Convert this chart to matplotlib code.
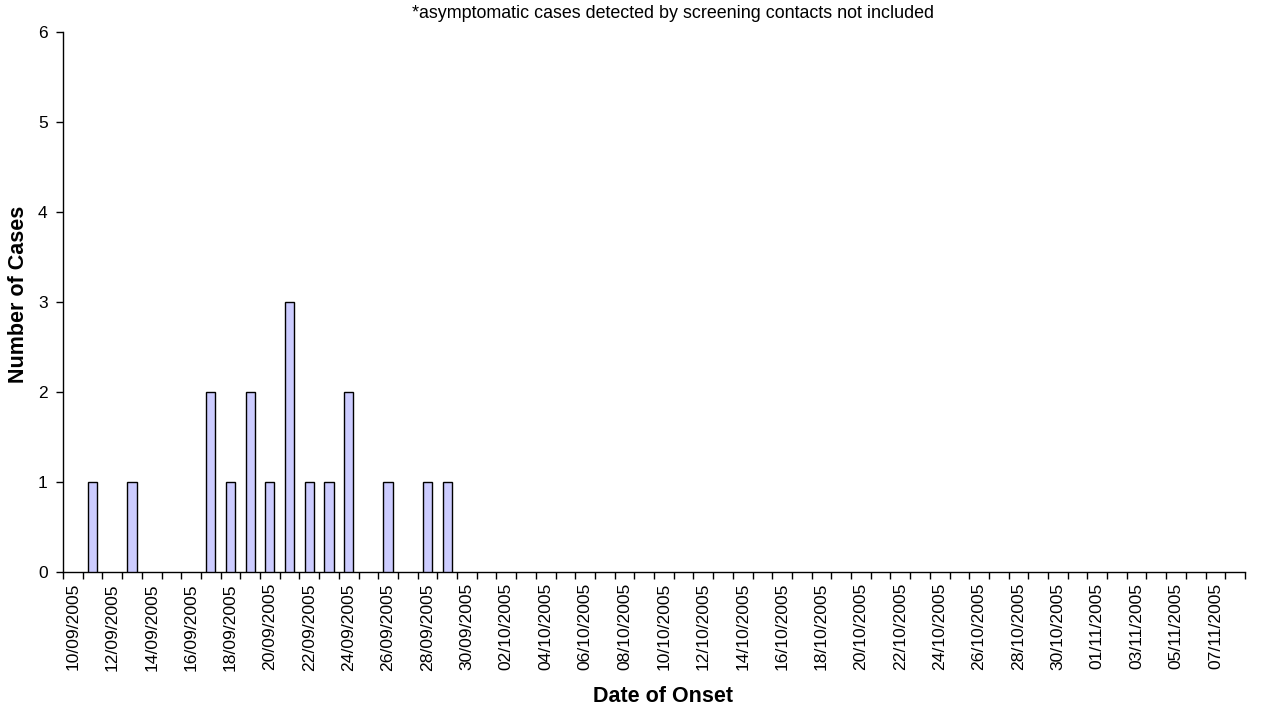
import matplotlib
matplotlib.use("Agg")
import matplotlib.pyplot as plt
import numpy as np
import pandas as pd

plt.rcParams['font.family'] = ['Liberation Sans', 'DejaVu Sans']

# Categories: one per day, 10/09/2005 .. 08/11/2005
dates = pd.date_range("2005-09-10", "2005-11-08", freq="D")
date_labels = [d.strftime("%d/%m/%Y") for d in dates]

counts = [0, 1, 0, 1, 0, 0, 0, 2, 1, 2,
          1, 3, 1, 1, 2, 0, 1, 0, 1, 1,
          0, 0, 0, 0, 0, 0, 0, 0, 0, 0,
          0, 0, 0, 0, 0, 0, 0, 0, 0, 0,
          0, 0, 0, 0, 0, 0, 0, 0, 0, 0,
          0, 0, 0, 0, 0, 0, 0, 0, 0, 0]

title = "*asymptomatic cases detected by screening contacts not included"
xlabel = "Date of Onset"
ylabel = "Number of Cases"
yticks = [0, 1, 2, 3, 4, 5, 6]

W, H = 1274, 709
fig = plt.figure(figsize=(W / 100, H / 100), dpi=100)
ax = fig.add_axes([63 / W, 1 - 572 / H, (1245 - 63) / W, (572 - 32) / H])

x = np.arange(len(counts))
cnt = np.array(counts)
nz = cnt > 0
ax.bar(x[nz], cnt[nz], width=0.47, color="#CCCCFF", edgecolor="black", linewidth=1.0, zorder=3)

ax.set_xlim(-0.5, len(counts) - 0.5)
ax.set_ylim(0, 6)
ax.set_yticks(yticks)
ax.set_yticklabels([str(v) for v in yticks], fontsize=12.5)

# tick marks at category boundaries
ax.set_xticks(np.arange(-0.5, len(counts) + 0.5, 1.0))
ax.set_xticklabels([])
ax.tick_params(axis="x", which="major", direction="out", length=5, width=1)
# labels at every other category centre
ax.set_xticks(x[::2], [date_labels[i] for i in x[::2]], minor=True)
ax.tick_params(axis="x", which="minor", length=0, labelsize=12.6, labelrotation=90, pad=8)
ax.tick_params(axis="y", direction="out", length=5, width=1, pad=6)

for s in ["top", "right"]:
    ax.spines[s].set_visible(False)
ax.spines["left"].set_linewidth(1)
ax.spines["bottom"].set_linewidth(1)

ax.set_xlabel(xlabel, fontsize=15.5, fontweight="bold")
ax.xaxis.set_label_coords((663 - 63) / (1245 - 63), (572 - 696) / (572 - 32))
ax.xaxis.label.set_va("center")
ax.set_ylabel(ylabel, fontsize=15.5, fontweight="bold")
ax.yaxis.set_label_coords((19 - 63) / (1245 - 63), (572 - 294) / (572 - 32))
ax.yaxis.label.set_va("center")
fig.text(673 / W, 1 - 13 / H, title, ha="center", va="center", fontsize=12.9)

fig.savefig("out.png", dpi=100)
